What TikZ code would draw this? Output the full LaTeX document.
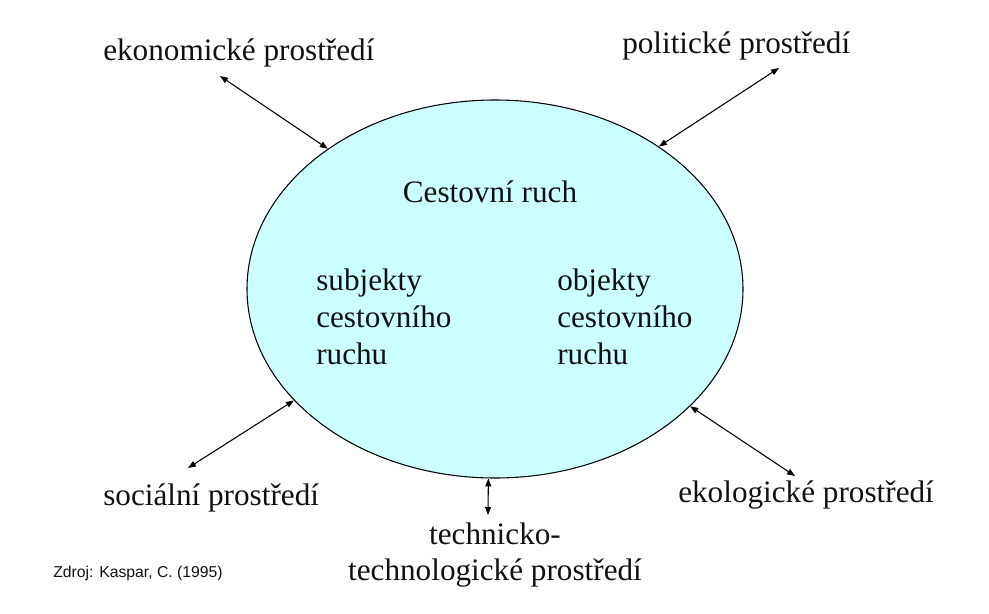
\documentclass[tikz,border=0pt]{standalone}
\usepackage{fontspec}
\setmainfont{Liberation Serif}
\newfontfamily\sourcefont{Liberation Sans}
\usetikzlibrary{shapes.geometric, arrows.meta, positioning}
\definecolor{crfill}{HTML}{CCFFFF}
\definecolor{crtext}{HTML}{111111}

\begin{document}
\begin{tikzpicture}[
    x=0.75pt, y=-0.75pt,
    envlabel/.style={font=\rmfamily\fontsize{23.4}{26.3}\selectfont, color=crtext, inner sep=0pt},
    inlabel/.style={font=\rmfamily\fontsize{23.4}{27.6}\selectfont, color=crtext, inner sep=0pt, align=left},
    link/.style={{Triangle[length=6pt,width=4.5pt]}-{Triangle[length=6pt,width=4.5pt]}, line width=0.8pt}
]
\useasboundingbox (0,0) rectangle (989,614);

% Central ellipse
\node[ellipse, draw=black, line width=0.8pt, fill=crfill, minimum width=372pt, minimum height=283.5pt, inner sep=0pt] (cr) at (495,289) {};
\node[envlabel, anchor=base] (crtitle) at (490,202) {Cestovní ruch};
% (base of a multi-line node = its last line)
\node[inlabel, anchor=base west] (subj) at (316,364) {subjekty\\cestovního\\ruchu};
\node[inlabel, anchor=base west] (obj) at (557,364) {objekty\\cestovního\\ruchu};

% Environment labels
\node[envlabel, anchor=base west] (eko) at (103,60) {ekonomické prostředí};
\node[envlabel, anchor=base west] (pol) at (622,53) {politické prostředí};
\node[envlabel, anchor=base west] (soc) at (103,505) {sociální prostředí};
\node[envlabel, anchor=base west] (ekol) at (678,502) {ekologické prostředí};
\node[envlabel, anchor=base, align=center] (tech) at (495,580) {technicko-\\technologické prostředí};

% Free ends of the connectors
\coordinate (eko-tip) at (220,76);
\coordinate (pol-tip) at (779,68);
\coordinate (soc-tip) at (188,468);
\coordinate (ekol-tip) at (795,476);
\coordinate (tech-tip) at (488,515);

% Connectors
\draw[link] (eko-tip) -- (cr.140.5);
\draw[link] (pol-tip) -- (cr.41);
\draw[link] (soc-tip) -- (cr.209);
\draw[link] (ekol-tip) -- (cr.329.5);
\draw[link] (tech-tip) -- (cr.268);

% Source
\node[font=\sourcefont\fontsize{11.8}{14}\selectfont, color=crtext, inner sep=0pt, anchor=base west] (src) at (53,577) {Zdroj: Kaspar, C. (1995)};

\end{tikzpicture}
\end{document}
